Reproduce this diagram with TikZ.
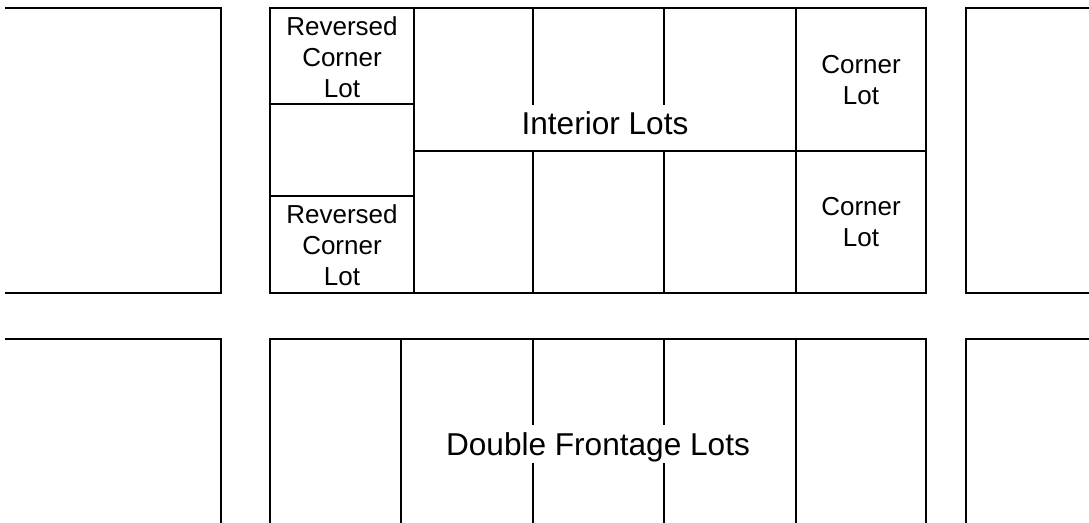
\documentclass[tikz,border=0pt]{standalone}
\usepackage{fontspec}
\setmainfont{Liberation Sans}
\usepackage{tikz}
\tikzset{
  lotline/.style={line width=2pt, line cap=rect, draw=black},
  lotlabel/.style={align=center, font=\fontsize{19.5}{23.4}\selectfont, inner sep=0pt},
  bigLabel/.style={font=\fontsize{23.7}{28}\selectfont, inner sep=0pt, anchor=base}
}

\begin{document}
\begin{tikzpicture}[x=.75pt, y=-.75pt]
  \useasboundingbox (0,0) rectangle (1089,523);
  % top row
  \draw[lotline] (6,8) -- (221,8) -- (221,293) -- (6,293);
  \draw[lotline] (1089,8) -- (966,8) -- (966,293) -- (1089,293);
  \draw[lotline] (270,8) rectangle (926,293);
  \draw[lotline] (414,8) -- (414,293);
  \draw[lotline] (796,8) -- (796,293);
  \draw[lotline] (270,104) -- (414,104);
  \draw[lotline] (270,196) -- (414,196);
  \draw[lotline] (414,151) -- (926,151);
  \node[lotlabel] (revtop) at (342,57) {Reversed\\Corner\\Lot};
  \node[lotlabel] (revbot) at (342,245.5) {Reversed\\Corner\\Lot};
  \node[lotlabel] (cornertop) at (861,80) {Corner\\Lot};
  \node[lotlabel] (cornerbot) at (861,222) {Corner\\Lot};
  \node[bigLabel] (interior) at (605,135) {Interior Lots};
  \foreach \x in {533,664} {
    \draw[lotline] (\x,8) -- (\x,104);
    \draw[lotline] (\x,151) -- (\x,293);
  }
  % bottom row
  \draw[lotline] (6,339) -- (221,339) -- (221,523);
  \draw[lotline] (1089,339) -- (966,339) -- (966,523);
  \draw[lotline] (270,523) -- (270,339) -- (926,339) -- (926,523);
  \draw[lotline] (401,339) -- (401,523);
  \draw[lotline] (796,339) -- (796,523);
  \node[bigLabel] (double) at (598,456) {Double Frontage Lots};
  \foreach \x in {533,664} {
    \draw[lotline] (\x,339) -- (\x,424);
    \draw[lotline] (\x,464) -- (\x,523);
  }
\end{tikzpicture}
\end{document}
